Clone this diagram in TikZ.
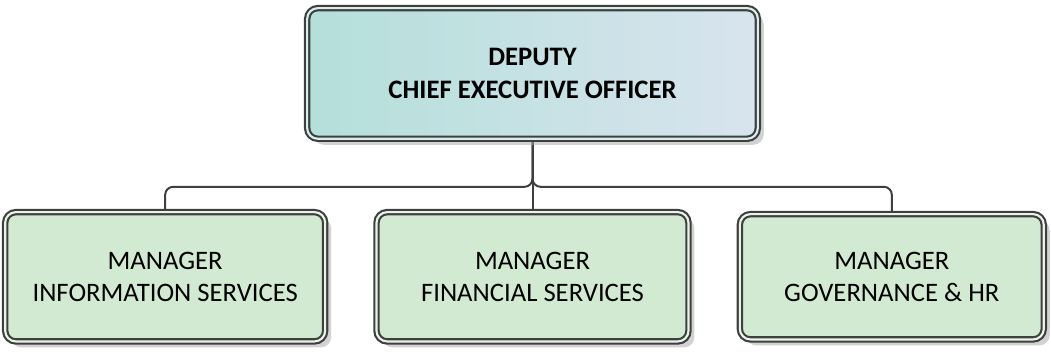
\documentclass[tikz,border=0pt]{standalone}
\usepackage{fontspec}
\setmainfont{Carlito}
\usetikzlibrary{positioning, shadows, backgrounds}
\definecolor{boxline}{HTML}{3F3F3F}
\definecolor{ceoleft}{HTML}{B4DFDA}
\definecolor{ceoright}{HTML}{D8E4EE}
\definecolor{mgrfill}{HTML}{D3EAD2}

\begin{document}
\begin{tikzpicture}[node distance=55pt and 38.5pt,
    orgbox/.style={rectangle, rounded corners=8pt, draw=boxline,
      line width=1.6pt, outer sep=0pt, align=center,
      font=\fontsize{20}{24.5}\selectfont,
      drop shadow={shadow xshift=4.5pt, shadow yshift=-4.5pt, fill=black!35}},
    ceobox/.style={orgbox, double=ceoleft!50!white, double distance=1.6pt,
      left color=ceoleft, right color=ceoright,
      minimum width=338pt, minimum height=98pt,
      font=\fontsize{20}{24.5}\selectfont\bfseries},
    mgrbox/.style={orgbox, double=mgrfill!50!white, double distance=1.6pt,
      fill=mgrfill, minimum width=234pt, minimum height=97pt},
    link/.style={draw=boxline, line width=1.5pt, rounded corners=6pt}]
  \useasboundingbox (-399.4pt,-208.9pt) rectangle (388.9pt,55.1pt);
  \node[ceobox] (ceo) {DEPUTY\\CHIEF EXECUTIVE OFFICER};
  \node[mgrbox, below=of ceo] (fin) {MANAGER\\FINANCIAL SERVICES};
  \node[mgrbox, left=of fin, minimum width=240pt] (infos) {MANAGER\\INFORMATION SERVICES};
  \node[mgrbox, right=of fin, minimum width=228pt, minimum height=94pt] (gov) {MANAGER\\GOVERNANCE \& HR};
  \coordinate[below=36pt of ceo.south] (bus);
  % connectors go under the boxes
  \begin{scope}[on background layer]
    \draw[link] (ceo.south) |- (bus -| infos.north) -- (infos.north);
    \draw[link] (ceo.south) |- (bus -| gov.north) -- (gov.north);
    \draw[link] (ceo.south) -- (fin.north);
  \end{scope}
\end{tikzpicture}
\end{document}
